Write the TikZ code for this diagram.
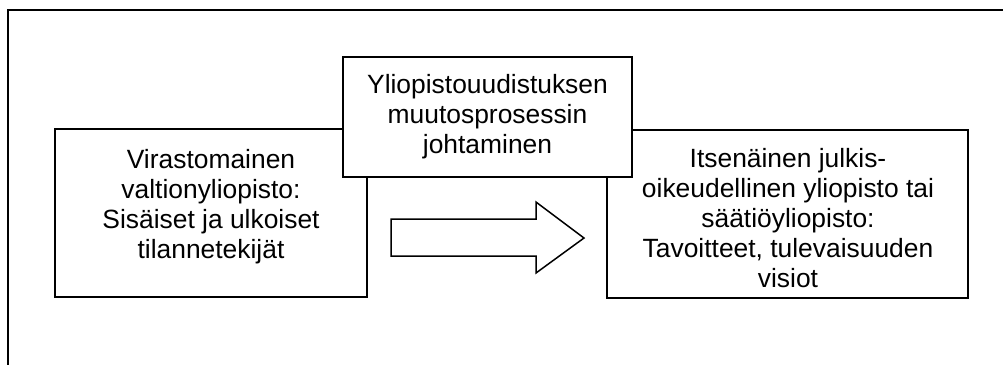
\documentclass[tikz,border=0pt]{standalone}
\usepackage{fontspec}
\setmainfont{Liberation Sans}
\begin{document}
\begin{tikzpicture}[x=1pt,y=-1pt,
  box/.style={draw=black,line width=1.5pt,fill=white},
  frameline/.style={draw=black,line width=2pt},
  txt/.style={anchor=north,inner sep=0pt,align=center,font=\fontsize{26.4}{30}\selectfont}]
\useasboundingbox (0,0) rectangle (1003,365);
% open outer frame (top and left edges only)
\coordinate (ftl) at (7.5,10);
\coordinate (ftr) at (1003,10);
\coordinate (fbl) at (7.5,365);
\draw[frameline] (ftr) -- (ftl) -- (fbl);
% boxes
\draw[box] (55,129) rectangle (367,297);
\draw[box] (607,130) rectangle (968,298);
\draw[box] (343,57) rectangle (632,177);
% texts
\node[txt] (lefttext) at (211,149) {Virastomainen\\valtionyliopisto:\\Sisäiset ja ulkoiset\\tilannetekijät};
\node[txt] (midtext) at (487.5,74.5) {Yliopistouudistuksen\\muutosprosessin\\johtaminen};
\node[txt] (righttext) at (788,148) {Itsenäinen julkis-\\oikeudellinen yliopisto tai\\säätiöyliopisto:\\Tavoitteet, tulevaisuuden\\visiot};
% block arrow
\draw[line width=1.5pt,line join=miter] (391,219) -- (536,219) -- (536,202) -- (584,238) -- (536,273) -- (536,256) -- (391,256) -- cycle;
\end{tikzpicture}
\end{document}
